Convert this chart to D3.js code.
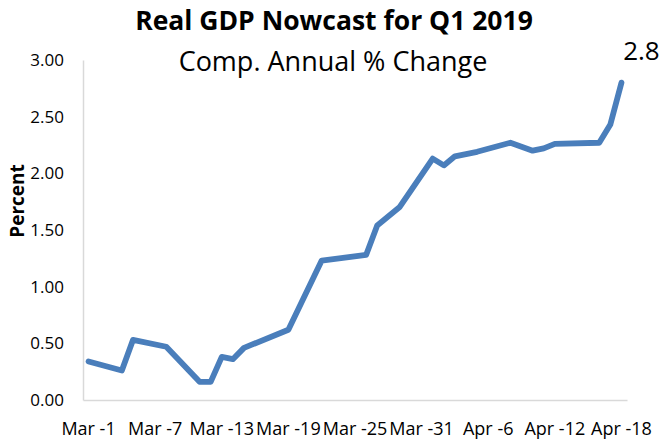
<!DOCTYPE html>
<html><head><meta charset="utf-8">
<script src="https://cdn.jsdelivr.net/npm/d3@7"></script>
<style>body{margin:0;background:#fff}svg{display:block}</style>
</head><body><svg id="c" width="662" height="441"></svg>
<script>
// ---- data ----
const dayLabels = (function(){ const a=[]; for(let d=1; d<=31; d++) a.push("Mar -"+d); for(let d=1; d<=18; d++) a.push("Apr -"+d); return a; })();
const tickLabels = ["Mar -1","Mar -7","Mar -13","Mar -19","Mar -25","Mar -31","Apr -6","Apr -12","Apr -18"];
const pointDates = ["Mar -1","Mar -4","Mar -5","Mar -8","Mar -11","Mar -12","Mar -13","Mar -14","Mar -15","Mar -19","Mar -22","Mar -26","Mar -27","Mar -29","Apr -1","Apr -2","Apr -3","Apr -5","Apr -8","Apr -10","Apr -11","Apr -12","Apr -16","Apr -17","Apr -18"];
const pointValues = [0.34,0.26,0.53,0.47,0.16,0.16,0.38,0.36,0.46,0.62,1.23,1.28,1.54,1.70,2.13,2.07,2.15,2.19,2.27,2.20,2.22,2.26,2.27,2.43,2.80];
const yTicks = [0,0.5,1,1.5,2,2.5,3];
const lastLabel = "2.8";

const font = "'Open Sans', sans-serif";
const svg = d3.select("#c");
const m = {l:83, r:627, t:60, b:400};
const x = d3.scaleBand().domain(dayLabels).range([m.l, m.r]).paddingInner(0).paddingOuter(0);
const y = d3.scaleLinear().domain([0,3]).range([m.b, m.t]);
const cx = d => x(d) + x.bandwidth()/2;

// axes
const yAxis = svg.append("g").attr("transform", `translate(${m.l},0)`)
  .call(d3.axisLeft(y).tickValues(yTicks).tickFormat(d3.format(".2f")).tickSize(0).tickPadding(19));
yAxis.select(".domain").attr("stroke","#d9d9d9").attr("stroke-width",1.5);
yAxis.selectAll("text").attr("font-family",font).attr("font-size",17).attr("fill","#000");

const xAxis = svg.append("g").attr("transform", `translate(0,${m.b})`)
  .call(d3.axisBottom(x).tickValues(tickLabels).tickSize(0).tickPadding(22));
xAxis.select(".domain").attr("stroke","#d9d9d9").attr("stroke-width",1.5);
xAxis.selectAll("text").attr("font-family",font).attr("font-size",18).attr("fill","#000");

// line
const data = pointDates.map((d,i)=>({d, v:pointValues[i]}));
svg.append("path").datum(data)
  .attr("d", d3.line().x(p=>cx(p.d)).y(p=>y(p.v)))
  .attr("fill","none").attr("stroke","#4a7ebb").attr("stroke-width",5.8)
  .attr("stroke-linejoin","round").attr("stroke-linecap","round");

// titles
svg.append("text").attr("x",334).attr("y",30).attr("text-anchor","middle")
  .attr("font-family",font).attr("font-weight","bold").attr("font-size",26.5).text("Real GDP Nowcast for Q1 2019");
svg.append("text").attr("x",333).attr("y",71).attr("text-anchor","middle")
  .attr("font-family",font).attr("font-size",27).text("Comp. Annual % Change");
// last value label
const last = data[data.length-1];
svg.append("text").attr("x",cx(last.d)+20).attr("y",y(last.v)-23).attr("text-anchor","middle")
  .attr("font-family",font).attr("font-size",26).text(lastLabel);
// y title
svg.append("text").attr("transform","translate(24,201) rotate(-90)").attr("text-anchor","middle")
  .attr("font-family",font).attr("font-weight","bold").attr("font-size",19).text("Percent");
</script></body></html>
